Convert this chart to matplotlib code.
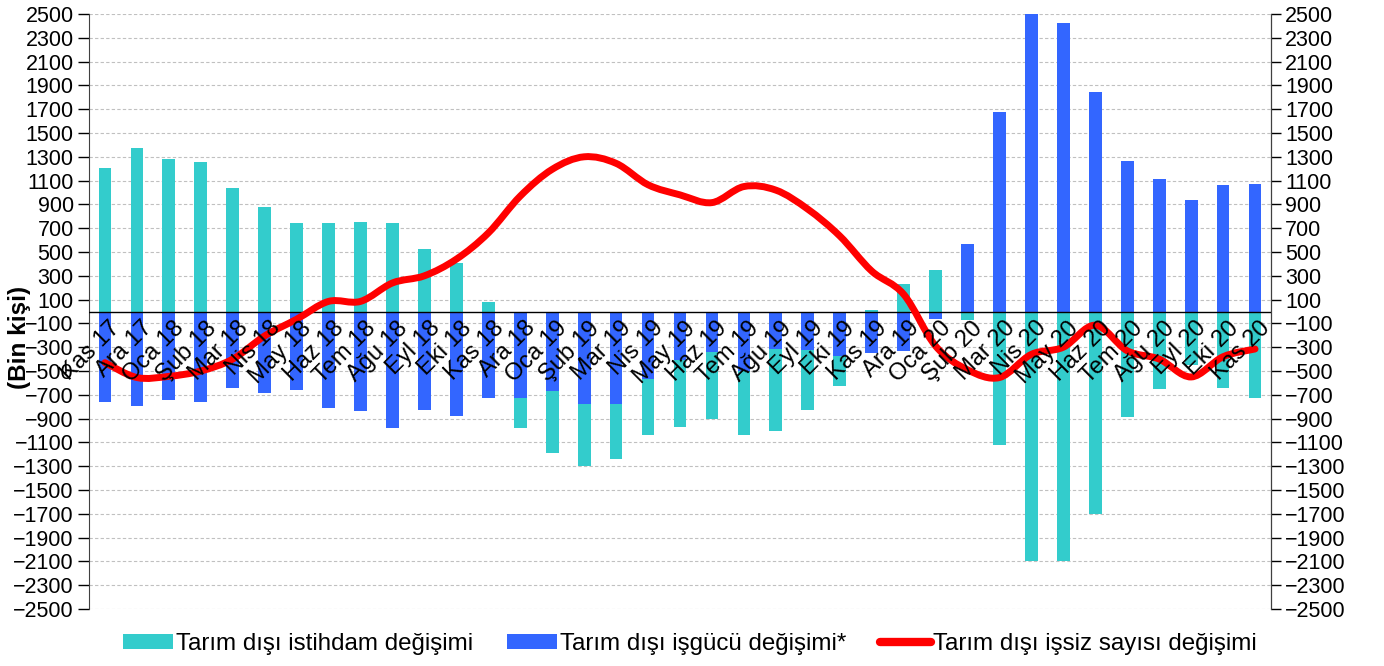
import numpy as np
import matplotlib
matplotlib.use("Agg")
import matplotlib.pyplot as plt
from matplotlib.path import Path
from matplotlib.patches import PathPatch, Patch
from matplotlib.lines import Line2D

plt.rcParams['font.family'] = ['Liberation Sans', 'DejaVu Sans']

# months, Kas 17 .. Kas 20
months = ["Kas 17", "Ara 17", "Oca 18", "Şub 18", "Mar 18", "Nis 18", "May 18", "Haz 18",
          "Tem 18", "Ağu 18", "Eyl 18", "Eki 18", "Kas 18", "Ara 18", "Oca 19", "Şub 19",
          "Mar 19", "Nis 19", "May 19", "Haz 19", "Tem 19", "Ağu 19", "Eyl 19", "Eki 19",
          "Kas 19", "Ara 19", "Oca 20", "Şub 20", "Mar 20", "Nis 20", "May 20", "Haz 20",
          "Tem 20", "Ağu 20", "Eyl 20", "Eki 20", "Kas 20"]

# change in non-agricultural employment (bin kişi)
istihdam = [1205, 1370, 1280, 1260, 1035, 875, 745, 745, 755, 745, 525, 410, 78,
            -980, -1185, -1295, -1240, -1040, -970, -905, -1035, -1005, -830, -625,
            15, 230, 345, -70, -1120, -2095, -2100, -1705, -890, -655, -450, -645, -730]

# change in non-agricultural labour force
isgucu = [-760, -790, -740, -760, -640, -685, -660, -810, -835, -975, -825, -875, -725,
          -725, -670, -780, -780, -565, -405, -340, -500, -315, -320, -370, -345, -330,
          -60, 570, 1680, 2500, 2425, 1845, 1265, 1110, 940, 1060, 1070]

# change in non-agricultural unemployed
issiz = [-430, -555, -545, -500, -400, -205, -65, 85, 85, 240, 300, 440, 660, 970,
         1195, 1300, 1245, 1065, 980, 915, 1050, 1020, 860, 635, 340, 145, -290, -490,
         -555, -360, -300, -115, -330, -400, -550, -380, -315]

yticks = list(range(-2500, 2501, 200))

teal = "#33CCCC"
blue = "#3366FF"
red = "#FF0000"

fig = plt.figure(figsize=(13.84, 6.66), dpi=100)
ax = fig.add_axes([89 / 1384, 57 / 666, 1182 / 1384, 595 / 666])

x = np.arange(len(months))
ax.bar(x, istihdam, width=0.4, color=teal, zorder=2)
ax.bar(x, isgucu, width=0.4, color=blue, zorder=3)

# smoothed line (excel style bezier through the points)
n = len(issiz)
verts = [(x[0], issiz[0])]
codes = [Path.MOVETO]
for i in range(n - 1):
    a = max(i - 1, 0)
    b = min(i + 2, n - 1)
    c1 = (x[i] + (x[i + 1] - x[a]) / 6, issiz[i] + (issiz[i + 1] - issiz[a]) / 6)
    c2 = (x[i + 1] - (x[b] - x[i]) / 6, issiz[i + 1] - (issiz[b] - issiz[i]) / 6)
    verts += [c1, c2, (x[i + 1], issiz[i + 1])]
    codes += [Path.CURVE4] * 3
ax.add_patch(PathPatch(Path(verts, codes), fill=False, edgecolor=red, lw=5,
                       capstyle="round", joinstyle="round", zorder=5))

ax.axhline(0, color="black", lw=1, zorder=4)

ax.set_xlim(-0.5, len(months) - 0.5)
ax.set_ylim(-2500, 2500)
ax.set_yticks(yticks)
ax.set_xticks([])
ax.grid(axis="y", color="#C0C0C0", linestyle=(0, (3, 2)), lw=0.8, zorder=0)
ax.tick_params(axis="y", direction="out", length=8, width=1, labelsize=15.5, pad=3)
for s in ["top", "bottom"]:
    ax.spines[s].set_visible(False)
ax.spines["left"].set_color("#404040")

ax2 = ax.twinx()
ax2.set_ylim(-2500, 2500)
ax2.set_yticks(yticks)
ax2.tick_params(axis="y", direction="out", length=7, width=1, labelsize=15.5, pad=3)
for s in ["top", "bottom", "left"]:
    ax2.spines[s].set_visible(False)
ax2.spines["right"].set_color("#404040")

# category labels sit just under the zero line
for i, lab in enumerate(months):
    ax.annotate(lab, xy=(x[i], 0), xytext=(3, -4), textcoords="offset points",
                rotation=45, ha="right", va="top", rotation_mode="anchor",
                fontsize=17, zorder=6)

fig.text(20 / 1384, 1 - 337 / 666, "(Bin kişi)", rotation=90, ha="center", va="center",
         fontsize=17.5, fontweight="bold")

handles = [Patch(facecolor=teal), Patch(facecolor=blue),
           Line2D([0], [0], color=red, lw=6, solid_capstyle="round")]
labels = ["Tarım dışı istihdam değişimi", "Tarım dışı işgücü değişimi*",
          "Tarım dışı işsiz sayısı değişimi"]
fig.legend(handles, labels, loc="center", bbox_to_anchor=(0.4984, 1 - 644 / 666), ncol=3,
           frameon=False, fontsize=17.4, handlelength=2.1, handleheight=0.6,
           handletextpad=0.1, columnspacing=1.4)

fig.savefig("out.png", dpi=100)
